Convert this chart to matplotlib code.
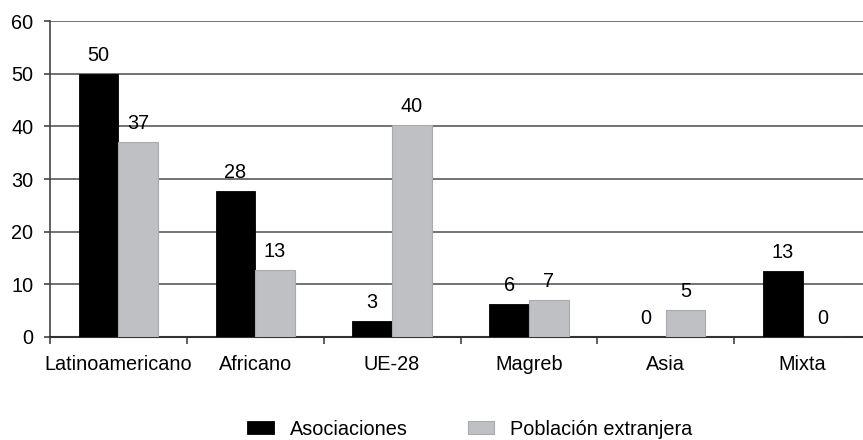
import matplotlib
matplotlib.use("Agg")
import matplotlib.pyplot as plt
import numpy as np

plt.rcParams['font.family'] = ['Liberation Sans', 'DejaVu Sans']

categorias = ["Latinoamericano", "Africano", "UE-28", "Magreb", "Asia", "Mixta"]
asociaciones = [50, 27.8, 3, 6.2, 0, 12.5]
asociaciones_lbl = ["50", "28", "3", "6", "0", "13"]
poblacion = [37, 12.8, 40.2, 7, 5.1, 0]
poblacion_lbl = ["37", "13", "40", "7", "5", "0"]

fs = 14.3
fig = plt.figure(figsize=(8.63, 4.40), dpi=100)
ax = fig.add_axes([50/863, 1-337/440, 821/863, 316/440])

x = np.arange(len(categorias))
w = 0.29
b1 = ax.bar(x - w/2, asociaciones, w, color="black", edgecolor="black", linewidth=0.6,
            label="Asociaciones", zorder=3)
b2 = ax.bar(x + w/2, poblacion, w, color="#bfc0c4", edgecolor="#a9aaad", linewidth=0.8,
            label="Población extranjera", zorder=3)

for rect, lbl in zip(b1, asociaciones_lbl):
    ax.annotate(lbl, (rect.get_x() + rect.get_width()/2, rect.get_height()),
                xytext=(0, 6.5), textcoords="offset points", ha="center", va="bottom", fontsize=fs)
for rect, lbl in zip(b2, poblacion_lbl):
    ax.annotate(lbl, (rect.get_x() + rect.get_width()/2, rect.get_height()),
                xytext=(0, 6.5), textcoords="offset points", ha="center", va="bottom", fontsize=fs)

ax.set_xlim(-0.5, len(categorias) - 0.5)
ax.set_ylim(0, 60)
ax.set_yticks(range(0, 61, 10))
ax.yaxis.grid(True, color="#5a5a5a", linewidth=1.2, zorder=0)
ax.set_axisbelow(True)

ax.set_xticks(x)
ax.set_xticklabels(categorias, fontsize=fs)
ax.set_xticks(np.arange(-0.5, len(categorias), 1), minor=True)
ax.tick_params(axis="x", which="major", length=0, pad=13)
ax.tick_params(axis="x", which="minor", length=5, width=1.2, color="#444444", direction="out")
ax.tick_params(axis="y", length=4, width=1.2, color="#444444", pad=8, labelsize=fs)

for s in ["top", "right"]:
    ax.spines[s].set_visible(False)
ax.spines["left"].set_color("#444444")
ax.spines["left"].set_linewidth(1.2)
ax.spines["bottom"].set_color("#333333")
ax.spines["bottom"].set_linewidth(1.5)

fig.legend(loc="center", bbox_to_anchor=(470/863, 1-429/440), ncol=2, frameon=False,
           fontsize=fs, handlelength=1.35, handleheight=0.6, handletextpad=0.8,
           columnspacing=3.0, borderpad=0.1)

fig.savefig("out.png", dpi=100)
